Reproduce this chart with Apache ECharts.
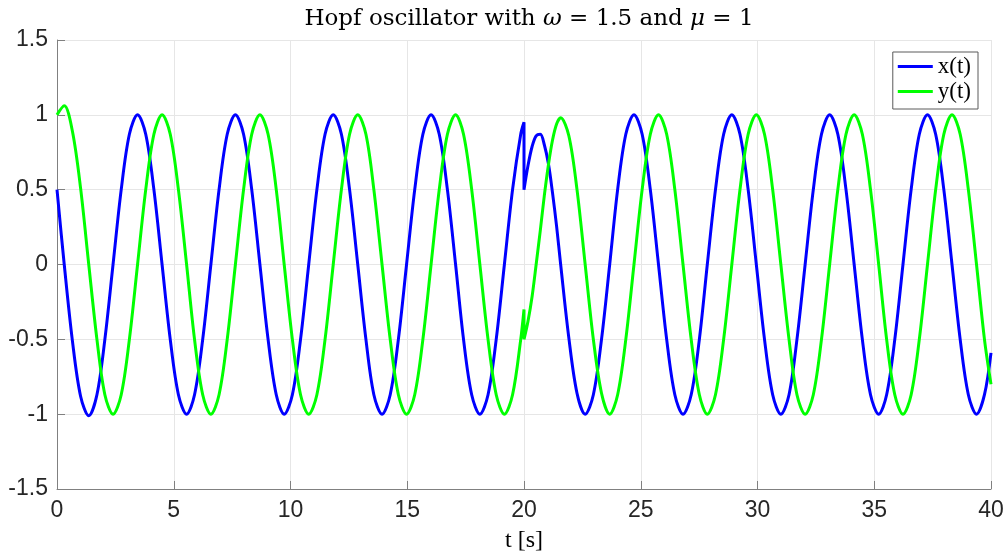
<!DOCTYPE html>
<html>
<head>
<meta charset="utf-8">
<title>Hopf oscillator</title>
<script src="https://cdn.jsdelivr.net/npm/echarts@6/dist/echarts.min.js"></script>
<style>
  html, body { margin: 0; padding: 0; background: #ffffff; }
  #chart { width: 1006px; height: 555px; }
</style>
</head>
<body>
<div id="chart"></div>
<script>
// Sample times in seconds; t = 20 appears twice because the state is reset there.
const tSeconds = [
  0, 0.31, 0.66, 1.01, 1.36, 1.71, 2.05, 2.40, 2.75, 3.10, 3.45, 3.80, 4.15, 4.50, 4.85, 5.20,
  5.55, 5.89, 6.24, 6.59, 6.94, 7.29, 7.64, 7.99, 8.34, 8.69, 9.04, 9.39, 9.73, 10.08, 10.43,
  10.78, 11.13, 11.48, 11.83, 12.18, 12.53, 12.88, 13.23, 13.57, 13.92, 14.27, 14.62, 14.97,
  15.32, 15.67, 16.02, 16.37, 16.72, 17.07, 17.41, 17.76, 18.11, 18.46, 18.81, 19.16, 19.51,
  19.86, 20,
  20, 20.17, 20.35, 20.52, 20.70, 20.87, 21.05, 21.22, 21.40, 21.57, 21.92, 22.27, 22.62,
  22.97, 23.32, 23.67, 24.01,
  24.36, 24.71, 25.06, 25.41, 25.76, 26.11, 26.46, 26.81, 27.16, 27.51, 27.85, 28.20, 28.55,
  28.90, 29.25, 29.60, 29.95, 30.30, 30.65, 31.00, 31.35, 31.69, 32.04, 32.39, 32.74, 33.09,
  33.44, 33.79, 34.14, 34.49, 34.84, 35.19, 35.53, 35.88, 36.23, 36.58, 36.93, 37.28, 37.63,
  37.98, 38.33, 38.68, 39.03, 39.38, 39.72, 40
];

// x(t) at each sample time
const xValues = [
  0.5, 0, -0.51, -0.88, -1.01, -0.87, -0.5, 0, 0.5, 0.87, 1, 0.87, 0.5, 0, -0.5, -0.87,
  -1, -0.87, -0.5, 0, 0.5, 0.87, 1, 0.87, 0.5, 0, -0.5, -0.87, -1, -0.87, -0.5,
  0, 0.5, 0.87, 1, 0.87, 0.5, 0, -0.5, -0.87, -1, -0.87, -0.5, 0,
  0.5, 0.87, 1, 0.87, 0.5, 0, -0.5, -0.87, -1, -0.87, -0.5, 0, 0.5,
  0.87, 0.95,
  0.5, 0.66, 0.79, 0.86, 0.87, 0.8, 0.67, 0.48, 0.25, 0, -0.49, -0.86, -1,
  -0.87, -0.5, 0, 0.5,
  0.87, 1, 0.87, 0.5, 0, -0.5, -0.87, -1, -0.87, -0.5, 0, 0.5, 0.87,
  1, 0.87, 0.5, 0, -0.5, -0.87, -1, -0.87, -0.5, 0, 0.5, 0.87, 1,
  0.87, 0.5, 0, -0.5, -0.87, -1, -0.87, -0.5, 0, 0.5, 0.87, 1, 0.87,
  0.5, 0, -0.5, -0.87, -1, -0.87, -0.59
];

// y(t) at each sample time
const yValues = [
  1, 1.06, 0.89, 0.51, 0, -0.5, -0.87, -1, -0.87, -0.5, 0, 0.5, 0.87, 1, 0.87, 0.5,
  0, -0.5, -0.87, -1, -0.87, -0.5, 0, 0.5, 0.87, 1, 0.87, 0.5, 0, -0.5, -0.87,
  -1, -0.87, -0.5, 0, 0.5, 0.87, 1, 0.87, 0.5, 0, -0.5, -0.87, -1,
  -0.87, -0.5, 0, 0.5, 0.87, 1, 0.87, 0.5, 0, -0.5, -0.87, -1, -0.87,
  -0.5, -0.3,
  -0.5, -0.38, -0.21, 0, 0.23, 0.46, 0.67, 0.83, 0.94, 0.98, 0.86, 0.5, 0,
  -0.5, -0.86, -1, -0.87,
  -0.5, 0, 0.5, 0.87, 1, 0.87, 0.5, 0, -0.5, -0.87, -1, -0.87, -0.5,
  0, 0.5, 0.87, 1, 0.87, 0.5, 0, -0.5, -0.87, -1, -0.87, -0.5, 0,
  0.5, 0.87, 1, 0.87, 0.5, 0, -0.5, -0.87, -1, -0.87, -0.5, 0, 0.5,
  0.87, 1, 0.87, 0.5, 0, -0.5, -0.8
];

const tTicks = [0, 5, 10, 15, 20, 25, 30, 35, 40];
const yTicks = [-1.5, -1, -0.5, 0, 0.5, 1, 1.5];

const seriesNames = ['x(t)', 'y(t)'];
const seriesColors = ['#0000ff', '#00ff00'];

const serif = '"Liberation Serif", "DejaVu Serif", serif';
const wideSerif = '"DejaVu Serif", "Liberation Serif", serif';
const sans = '"Liberation Sans", Arial, Helvetica, sans-serif';
const axisInk = '#262626';
const axisLineGray = '#808080';

const chart = echarts.init(document.getElementById('chart'), null, { renderer: 'canvas' });

const toPairs = (vals) => tSeconds.map((t, i) => [t, vals[i]]);

chart.setOption({
  animation: false,
  backgroundColor: '#ffffff',
  title: {
    text: '{n|Hopf oscillator with }{i|ω}{n| = 1.5 and }{i|μ}{n| = 1}',
    left: 524,
    textAlign: 'center',
    top: 3,
    textStyle: {
      fontWeight: 'normal',
      rich: {
        n: { fontFamily: wideSerif, fontSize: 23, fontWeight: 'normal', color: '#000000' },
        i: { fontFamily: wideSerif, fontSize: 23, fontWeight: 'normal', fontStyle: 'italic', color: '#000000' }
      }
    }
  },
  legend: {
    data: seriesNames,
    orient: 'vertical',
    right: 28,
    top: 52,
    padding: [3, 7, 6, 5],
    itemGap: 2,
    itemWidth: 35,
    itemHeight: 3,
    itemTextGap: 4,
    icon: 'rect',
    backgroundColor: '#ffffff',
    borderColor: '#5a5a5a',
    borderWidth: 1,
    borderRadius: 0,
    textStyle: { fontFamily: serif, fontSize: 23, color: '#000000' }
  },
  grid: { left: 57, right: 15, top: 40, bottom: 66, containLabel: false, outerBoundsMode: 'none' },
  xAxis: {
    type: 'value',
    min: tTicks[0],
    max: tTicks[tTicks.length - 1],
    interval: tTicks[1] - tTicks[0],
    name: 't [s]',
    nameLocation: 'middle',
    nameGap: 40,
    nameTextStyle: { fontFamily: serif, fontSize: 24, color: '#000000' },
    axisLine: { show: true, onZero: false, lineStyle: { color: axisLineGray, width: 1 } },
    axisTick: { show: true, inside: true, length: 8, lineStyle: { color: axisLineGray, width: 1 } },
    axisLabel: { margin: 10, fontFamily: sans, fontSize: 23, color: axisInk },
    splitLine: { show: true, lineStyle: { color: '#e6e6e6', width: 1 } }
  },
  yAxis: {
    type: 'value',
    min: yTicks[0],
    max: yTicks[yTicks.length - 1],
    interval: yTicks[1] - yTicks[0],
    axisLine: { show: true, onZero: false, lineStyle: { color: axisLineGray, width: 1 } },
    axisTick: { show: true, inside: true, length: 8, lineStyle: { color: axisLineGray, width: 1 } },
    axisLabel: { margin: 9, fontFamily: sans, fontSize: 23, color: axisInk },
    splitLine: { show: true, lineStyle: { color: '#e6e6e6', width: 1 } }
  },
  series: [
    {
      name: seriesNames[0],
      type: 'line',
      data: toPairs(xValues),
      showSymbol: false,
      smooth: 0.33,
      lineStyle: { color: seriesColors[0], width: 3 },
      itemStyle: { color: seriesColors[0] },
      z: 2
    },
    {
      name: seriesNames[1],
      type: 'line',
      data: toPairs(yValues),
      showSymbol: false,
      smooth: 0.33,
      lineStyle: { color: seriesColors[1], width: 3 },
      itemStyle: { color: seriesColors[1] },
      z: 3
    }
  ]
});
</script>
</body>
</html>
